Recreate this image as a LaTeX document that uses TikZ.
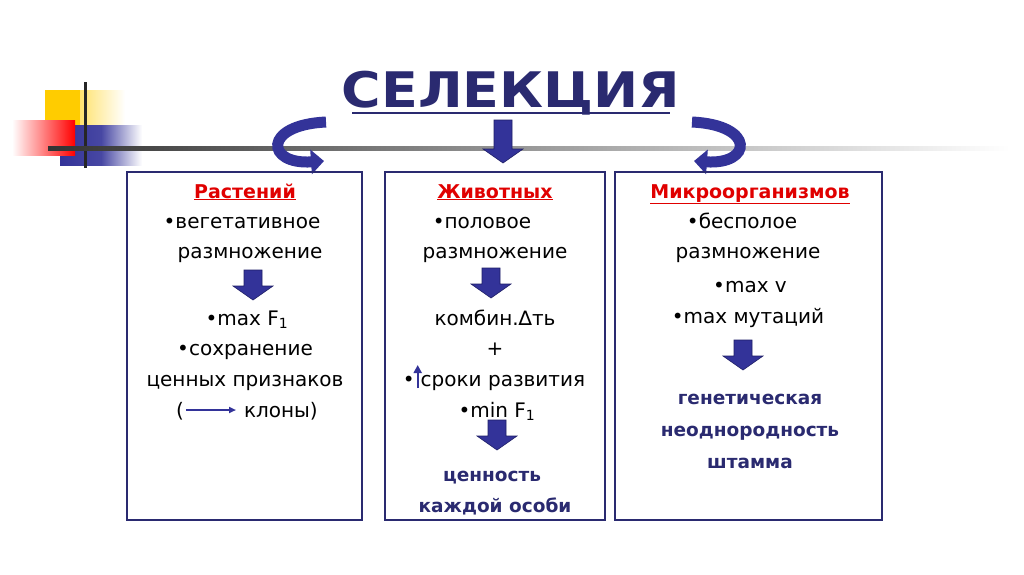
\documentclass[tikz,border=0pt]{standalone}
\usepackage{fontspec}
\setmainfont{DejaVu Sans}
\usetikzlibrary{arrows.meta,shadings}
\definecolor{navy}{HTML}{333399}
\definecolor{dnavy}{HTML}{1F1F66}
\definecolor{tnavy}{HTML}{2A2A70}
\definecolor{myred}{HTML}{E00000}
\definecolor{myyel}{HTML}{FFCC00}
\tikzset{
  box/.style={draw=tnavy,line width=1.6pt},
  txt/.style={font=\fontsize{20}{22}\selectfont,inner sep=0pt,anchor=base},
  hdr/.style={txt,font=\fontsize{19}{21}\selectfont\bfseries,text=myred},
  res/.style={txt,font=\fontsize{18.5}{20}\selectfont\bfseries,text=tnavy},
  curv/.style={line width=11pt,draw=navy,-{Triangle[length=13pt,width=24pt]}},
}
\newcommand{\fatarrow}[3]{% x, ytop, ybottom
  \filldraw[fill=navy,draw=dnavy,line width=0.6pt] (#1-9,#2) -- (#1+9,#2) -- (#1+9,#3-14) -- (#1+20,#3-14) -- (#1,#3) -- (#1-20,#3-14) -- (#1-9,#3-14) -- cycle;}
\begin{document}
\begin{tikzpicture}[x=1pt,y=-1pt]
\useasboundingbox (0,0) rectangle (1024,574);
\fill[white] (0,0) rectangle (1024,574);
% decoration
\shade[left color=myyel,right color=white] (45,90) rectangle (125,130);
\fill[myyel] (45,90) rectangle (80,130);
\shade[left color=navy,right color=white,middle color=navy!90] (60,125) rectangle (142,165);
\shade[left color=white,right color=red] (12,120) rectangle (75,155);
\draw[line width=3pt,black!85] (85,82) -- (85,168);
\shade[left color=black!80,right color=white] (48,146.5) rectangle (1010,150);
% title
\node[font=\fontsize{49}{52}\selectfont\bfseries,text=tnavy,inner sep=0pt,anchor=base,xscale=1.1] (title) at (511,107) {СЕЛЕКЦИЯ};
\draw[tnavy,line width=2.5pt] (352,113) -- (670,113);
% top arrows
\draw[curv] (326,122) .. controls (262,125) and (266,165) .. (324,161);
\fatarrow{503}{120}{163}
\draw[curv] (692,122) .. controls (756,125) and (752,165) .. (694,161);
% boxes
\draw[box] (127,172) rectangle (362,520);
\draw[box] (385,172) rectangle (605,520);
\draw[box] (615,172) rectangle (882,520);
% box 1
\node[hdr] (h1) at (245,198) {\underline{Растений}};
\node[txt] (a1) at (242,228) {•вегетативное};
\node[txt] (a2) at (250,258) {размножение};
\fatarrow{253}{270}{300}
\node[txt] (a3) at (247,325) {•max F\textsubscript{1}};
\node[txt] (a4) at (245,355) {•сохранение};
\node[txt] (a5) at (245,386) {ценных признаков};
\node[txt] (a6) at (247,417) {(\hspace{60pt}клоны)};
\draw[line width=1.8pt,navy,-{Triangle[length=7pt,width=6pt]}] (186,410) -- (236,410);
% box 2
\node[hdr] (h2) at (495,198) {\underline{Животных}};
\node[txt] (b1) at (482,228) {•половое};
\node[txt] (b2) at (495,258) {размножение};
\fatarrow{491}{268}{298}
\node[txt] (b3) at (495,325) {комбин.∆ть};
\node[txt] (b4) at (495,355) {+};
\node[txt] (b5) at (494,386) {•\hspace{6pt}сроки развития};
\draw[line width=2.4pt,navy,-{Triangle[length=8pt,width=8pt]}] ([xshift=15pt,yshift=-2pt]b5.base west) -- ++(0,-23);
\node[txt] (b6) at (497,417) {•min F\textsubscript{1}};
\fatarrow{497}{420}{450}
\node[res] (b7) at (492,481) {ценность};
\node[res] (b8) at (495,512) {каждой особи};
% box 3
\node[hdr] (h3) at (750,198) {\underline{Микроорганизмов}};
\node[txt] (c1) at (742,228) {•бесполое};
\node[txt] (c2) at (748,258) {размножение};
\node[txt] (c3) at (750,292) {•max v};
\node[txt] (c4) at (748,323) {•max мутаций};
\fatarrow{743}{340}{370}
\node[res] (c5) at (750,404) {генетическая};
\node[res] (c6) at (750,436) {неоднородность};
\node[res] (c7) at (750,468) {штамма};
\end{tikzpicture}
\end{document}
